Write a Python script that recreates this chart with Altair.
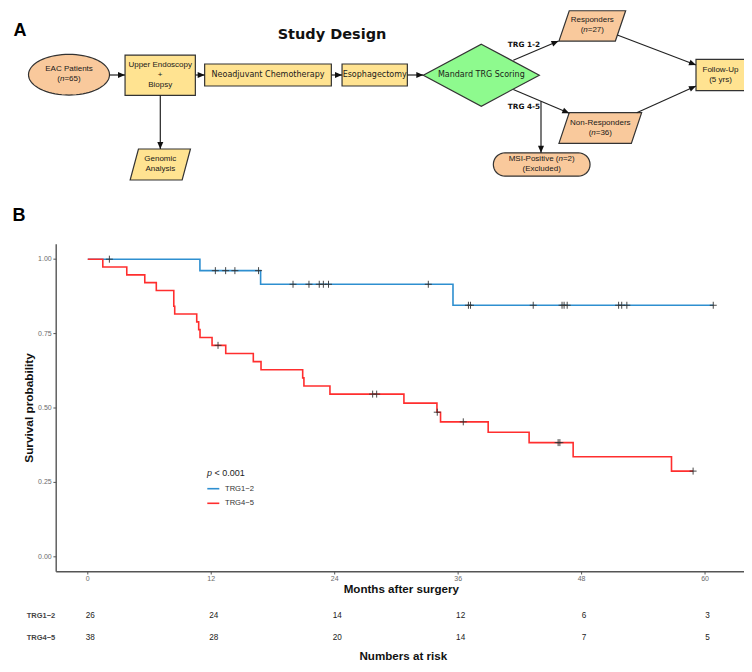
import math
import altair as alt
import pandas as pd

# ---------------- data: Kaplan-Meier ----------------
groups = ["TRG1\u22122", "TRG4\u22125"]
line_colors = ["#2E8FD0", "#FF2E2E"]

blue_time = [0, 10.9, 16.8, 35.5, 60.8]
blue_surv = [1.0, 0.9615, 0.9157, 0.8452, 0.8452]
blue_cens_time = [2.1, 12.4, 13.4, 14.3, 16.6, 19.95, 21.5, 22.5, 22.9, 23.4, 33.1,
                  37.0, 37.2, 43.3, 46.1, 46.3, 46.6, 51.6, 51.9, 52.4, 60.8]
blue_cens_surv = [1.0, 0.9615, 0.9615, 0.9615, 0.9615, 0.9157, 0.9157, 0.9157, 0.9157, 0.9157, 0.9157,
                  0.8452, 0.8452, 0.8452, 0.8452, 0.8452, 0.8452, 0.8452, 0.8452, 0.8452, 0.8452]

red_time = [0, 1.46, 3.79, 5.54, 6.66, 8.36, 8.45, 10.59, 10.78, 10.91, 12.08, 13.41, 16.09,
            16.84, 20.89, 21.01, 23.54, 30.73, 33.94, 34.29, 38.92, 42.9, 47.18, 56.74, 58.84]
red_surv = [1.0, 0.9737, 0.9474, 0.9211, 0.8947, 0.8421, 0.8158, 0.7895, 0.7632, 0.7368, 0.7105,
            0.6832, 0.6559, 0.6286, 0.6013, 0.574, 0.5467, 0.5163, 0.4859, 0.4535, 0.4186, 0.3837,
            0.336, 0.288, 0.288]
red_cens_time = [12.66, 27.69, 28.08, 33.97, 36.5, 45.72, 45.89, 58.84]
red_cens_surv = [0.7105, 0.5467, 0.5467, 0.4859, 0.4535, 0.3837, 0.3837, 0.288]

risk_times = [0, 12, 24, 36, 48, 60]
risk_trg12 = [26, 24, 14, 12, 6, 3]
risk_trg45 = [38, 28, 20, 14, 7, 5]

y_ticks = [0.0, 0.25, 0.5, 0.75, 1.0]
y_tick_labels = ["0.00", "0.25", "0.50", "0.75", "1.00"]
x_ticks = [0, 12, 24, 36, 48, 60]
p_text = "< 0.001"

# ---------------- data: flowchart ----------------
node_names = ["EAC", "Upper", "Neo", "Esoph", "Mandard", "Resp", "NonResp", "Follow", "Genomic", "MSI"]
node_lines = [
    ["EAC Patients", "(n=65)"],
    ["Upper Endoscopy", "+", "Biopsy"],
    ["Neoadjuvant Chemotherapy"],
    ["Esophagectomy"],
    ["Mandard TRG Scoring"],
    ["Responders", "(n=27)"],
    ["Non-Responders", "(n=36)"],
    ["Follow-Up", "(5 yrs)"],
    ["Genomic", "Analysis"],
    ["MSI-Positive (n=2)", "(Excluded)"],
]
edge_labels = ["TRG 1-2", "TRG 4-5"]

# ---------------- layout (page pixel coordinates) ----------------
PEACH, YELLOW, GREEN = "#F9C99C", "#FFE391", "#8EFA8E"
node_layout = {  # shape, cx, cy, w, h, skew, fill, font
    "EAC": ("ellipse", 69, 74.7, 81, 40.7, 0, PEACH, "lib"),
    "Upper": ("rect", 160.2, 75.2, 70.3, 40.3, 0, YELLOW, "lib"),
    "Neo": ("rect", 268, 75, 126.7, 22, 0, YELLOW, "dv"),
    "Esoph": ("rect", 374.7, 75, 65.3, 22, 0, YELLOW, "dv"),
    "Mandard": ("diamond", 481.3, 75.2, 116, 62, 0, GREEN, "dv"),
    "Resp": ("para", 592.3, 25.9, 66.7, 30.3, 10.3, PEACH, "lib"),
    "NonResp": ("para", 600.3, 128, 82.7, 30.7, 10.3, PEACH, "lib"),
    "Follow": ("rect", 720.5, 75, 49, 31.4, 0, YELLOW, "lib"),
    "Genomic": ("para", 160.3, 164.5, 60.3, 31, 8.3, YELLOW, "lib"),
    "MSI": ("stadium", 541.7, 164.5, 96.7, 23.3, 0, PEACH, "lib"),
}
line_gap = 10
arrows = [  # x1, y1, x2, y2, head
    (109.5, 75, 125, 75, 1), (195.3, 75, 204.7, 75, 1), (331.3, 75, 342, 75, 1),
    (407.3, 75, 423.3, 75, 1), (160.3, 95.3, 160.3, 149, 1), (513.3, 60.3, 558.5, 41, 1),
    (513.3, 89.5, 569.3, 113.3, 1), (541, 101.2, 541, 152.7, 1), (617.3, 35, 696, 65, 1),
    (636.7, 112.7, 696, 86, 1),
]
edge_label_pos = [(524, 44.5), (524, 106.5)]

W, H = 736, 656


def pxs():
    return alt.Scale(domain=[8, 744], range=[0, 736], nice=False, zero=False)


def pys():
    return alt.Scale(domain=[8, 664], range=[0, 656], nice=False, zero=False)


def kxs():
    return alt.Scale(domain=[-3.07, 64.05], range=[48.2, 738.7], nice=False, zero=False)


def kys():
    return alt.Scale(domain=[-0.05, 1.05], range=[563.7, 236.3], nice=False, zero=False)


def PX(f="x"):
    return alt.X(f"{f}:Q", scale=pxs(), axis=None)


def PY(f="y"):
    return alt.Y(f"{f}:Q", scale=pys(), axis=None)


# Arial/Liberation Sans advance widths (em units)
AW = {'(': .333, ')': .333, '=': .584, ' ': .278, '<': .584, '.': .278, '-': .333,
      'M': .833, 'S': .667, 'I': .278, 'P': .667, 'i': .222, 't': .278, 'l': .222,
      'v': .5, 's': .5, 'y': .5, 'c': .5, 'k': .5, 'r': .333, 'f': .278}


def tw(s, size):
    w = 0
    for ch in s:
        if ch in AW:
            w += AW[ch]
        elif ch.isdigit():
            w += .556
        elif ch.isupper():
            w += .667
        else:
            w += .556
    return w * size


def split_italic(text):
    if "(n=" in text:
        a, b = text.split("(n=", 1)
        return [(a + "(", False), ("n", True), ("=" + b, False)]
    return [(text, False)]


def place_line(text, cx, cy, size, out_reg, out_it):
    parts = split_italic(text)
    if len(parts) == 1:
        out_reg.append({"x": cx, "y": cy, "t": text, "a": "center"})
        return
    total = sum(tw(p, size) for p, _ in parts)
    x = cx - total / 2
    for p, it in parts:
        stripped = p.lstrip(" ")
        xo = x + tw(p[:len(p) - len(stripped)], size)
        (out_it if it else out_reg).append({"x": xo, "y": cy, "t": stripped.rstrip(" "), "a": "left"})
        x += tw(p, size)


# ---------------- flowchart shapes ----------------
def node_points(shape, w, h, k):
    if shape == "rect":
        return [(-w / 2, -h / 2), (w / 2, -h / 2), (w / 2, h / 2), (-w / 2, h / 2)]
    if shape == "diamond":
        return [(0, -h / 2), (w / 2, 0), (0, h / 2), (-w / 2, 0)]
    if shape == "para":
        return [(-w / 2 + k, -h / 2), (w / 2, -h / 2), (w / 2 - k, h / 2), (-w / 2, h / 2)]
    if shape == "ellipse":
        return [(w / 2 * math.cos(2 * math.pi * i / 72), h / 2 * math.sin(2 * math.pi * i / 72)) for i in range(72)]
    if shape == "stadium":
        r = h / 2
        c = w / 2 - r
        pts = [(c + r * math.cos(math.radians(a)), r * math.sin(math.radians(a))) for a in range(-90, 91, 10)]
        pts += [(-c + r * math.cos(math.radians(a)), r * math.sin(math.radians(a))) for a in range(90, 271, 10)]
        return pts
    return []


node_rows = []
for name in node_names:
    shape, cx, cy, w, h, k, fill, _ = node_layout[name]
    S = max(w, h) / 2
    pts = node_points(shape, w, h, k)
    path = "M" + "L".join(f"{x / S:.4f},{y / S:.4f}" for x, y in pts) + "Z"
    node_rows.append({"x": cx, "y": cy, "path": path, "sz": (2 * S) ** 2, "fill": fill})
nodes_df = pd.DataFrame(node_rows)

nodes = alt.Chart(nodes_df).mark_point(filled=True, opacity=1, stroke="#333333", strokeWidth=1.2).encode(
    x=PX(), y=PY(),
    shape=alt.Shape("path:N", scale=None),
    size=alt.Size("sz:Q", scale=None),
    fill=alt.Fill("fill:N", scale=None),
)

# arrows
arrow_df = pd.DataFrame([{"x": a[0], "y": a[1], "x2": a[2], "y2": a[3]} for a in arrows])
arrow_lines = alt.Chart(arrow_df).mark_rule(color="#222222", strokeWidth=1.2).encode(
    x=PX(), y=PY(), x2="x2:Q", y2="y2:Q")
head_rows = []
for x1, y1, x2, y2, hd in arrows:
    if hd:
        ang = math.degrees(math.atan2(x2 - x1, -(y2 - y1))) % 360
        head_rows.append({"x": x2, "y": y2, "ang": ang})
heads = alt.Chart(pd.DataFrame(head_rows)).mark_point(
    shape="M0,0L-0.43,1L0.43,1Z", size=196, filled=True, opacity=1, color="#111111", strokeWidth=0
).encode(x=PX(), y=PY(), angle=alt.Angle("ang:Q", scale=None))

# flowchart texts
lib_reg, lib_it, dv_reg = [], [], []
for name, lines in zip(node_names, node_lines):
    shape, cx, cy, w, h, k, fill, font = node_layout[name]
    n = len(lines)
    for i, ln in enumerate(lines):
        yy = cy + (i - (n - 1) / 2) * line_gap - 0.5
        if font == "dv":
            dv_reg.append({"x": cx, "y": yy, "t": ln, "a": "center"})
        else:
            place_line(ln, cx, yy, 8, lib_reg, lib_it)


def text_layer(rows, font, size, weight="normal", style="normal", color="#1a1a1a", angle=0):
    df = pd.DataFrame(rows)
    layers = []
    for a in ["left", "center", "right"]:
        sub = df[df["a"] == a]
        if len(sub) == 0:
            continue
        layers.append(alt.Chart(sub).mark_text(
            font=font, fontSize=size, fontWeight=weight, fontStyle=style, color=color,
            align=a, baseline="middle", angle=angle).encode(x=PX(), y=PY(), text="t:N"))
    return layers


LIB = "Liberation Sans"
DV = "DejaVu Sans"

flow_texts = []
flow_texts += text_layer(lib_reg, LIB, 8)
flow_texts += text_layer(lib_it, LIB, 8, style="italic")
flow_texts += text_layer(dv_reg, DV, 8)
flow_texts += text_layer([{"x": p[0], "y": p[1], "t": t, "a": "center"} for t, p in zip(edge_labels, edge_label_pos)],
                         DV, 7.3, weight="bold", color="#111111")
flow_texts += text_layer([{"x": 332, "y": 34.5, "t": "Study Design", "a": "center"}], DV, 14.5, weight="bold", color="#111111")
flow_texts += text_layer([{"x": 13.5, "y": 30.5, "t": "A", "a": "left"},
                          {"x": 12.5, "y": 215.5, "t": "B", "a": "left"}], LIB, 18, weight="bold", color="#000000")

# ---------------- KM plot ----------------
km_df = pd.concat([
    pd.DataFrame({"t": blue_time, "s": blue_surv, "g": groups[0]}),
    pd.DataFrame({"t": red_time, "s": red_surv, "g": groups[1]}),
])
km_lines = alt.Chart(km_df).mark_line(interpolate="step-after", strokeWidth=1.6).encode(
    x=alt.X("t:Q", scale=kxs(), axis=None),
    y=alt.Y("s:Q", scale=kys(), axis=None),
    color=alt.Color("g:N", scale=alt.Scale(domain=groups, range=line_colors), legend=None),
    detail="g:N",
    order="t:Q",
)
cens_df = pd.DataFrame({"t": blue_cens_time + red_cens_time, "s": blue_cens_surv + red_cens_surv})
censors = alt.Chart(cens_df).mark_point(shape="M-1,0L1,0M0,-1L0,1", size=49, filled=False,
                                        color="#333333", strokeWidth=0.9, opacity=1).encode(
    x=alt.X("t:Q", scale=kxs(), axis=None), y=alt.Y("s:Q", scale=kys(), axis=None))

AX_L, AX_R, AX_T, AX_B = 56.2, 746.7, 244.3, 571.7
axis_df = pd.DataFrame([{"x": AX_L, "y": AX_T, "x2": AX_L, "y2": AX_B},
                        {"x": AX_L, "y": AX_B, "x2": AX_R, "y2": AX_B}])
axis_lines = alt.Chart(axis_df).mark_rule(color="#555555", strokeWidth=1.4).encode(
    x=PX(), y=PY(), x2="x2:Q", y2="y2:Q")

ytick_df = pd.DataFrame({"v": y_ticks, "lab": y_tick_labels, "x": AX_L - 2.8, "x2": AX_L, "xl": AX_L - 4.5})
ytick_marks = alt.Chart(ytick_df).mark_rule(color="#555555", strokeWidth=1).encode(
    x=PX(), x2="x2:Q", y=alt.Y("v:Q", scale=kys(), axis=None))
ytick_labels = alt.Chart(ytick_df).mark_text(font=LIB, fontSize=7, color="#6b6b6b", align="right",
                                             baseline="middle").encode(
    x=PX("xl"), y=alt.Y("v:Q", scale=kys(), axis=None), text="lab:N")

xtick_df = pd.DataFrame({"v": x_ticks, "lab": [str(v) for v in x_ticks], "y": AX_B, "y2": AX_B + 2.8, "yl": 578.5})
xtick_marks = alt.Chart(xtick_df).mark_rule(color="#555555", strokeWidth=1).encode(
    x=alt.X("v:Q", scale=kxs(), axis=None), y=PY(), y2="y2:Q")
xtick_labels = alt.Chart(xtick_df).mark_text(font=LIB, fontSize=7, color="#6b6b6b", align="center",
                                             baseline="middle").encode(
    x=alt.X("v:Q", scale=kxs(), axis=None), y=PY("yl"), text="lab:N")

titles = []
titles += text_layer([{"x": 28.5, "y": 408, "t": "Survival probability", "a": "center"}], LIB, 11.8,
                     weight="bold", color="#111111", angle=270)
titles += text_layer([{"x": 401.3, "y": 590, "t": "Months after surgery", "a": "center"},
                      {"x": 403.3, "y": 657.2, "t": "Numbers at risk", "a": "center"}], LIB, 11.6,
                     weight="bold", color="#111111")

# legend
leg_y = [488.7, 503.3]
leg_df = pd.DataFrame({"g": groups, "x": 207.3, "x2": 219.3, "y": leg_y, "xl": 225})
leg_lines = alt.Chart(leg_df).mark_rule(strokeWidth=1.6).encode(
    x=PX(), x2="x2:Q", y=PY(),
    color=alt.Color("g:N", scale=alt.Scale(domain=groups, range=line_colors), legend=None))
leg_text = alt.Chart(leg_df).mark_text(font=LIB, fontSize=7.6, color="#333333", align="left",
                                       baseline="middle").encode(x=PX("xl"), y=PY(), text="g:N")
p_it, p_reg = [], []
px0 = 207
p_it.append({"x": px0, "y": 472.7, "t": "p", "a": "left"})
p_reg.append({"x": px0 + tw("p ", 9), "y": 472.7, "t": p_text, "a": "left"})
p_layers = text_layer(p_it, LIB, 9, style="italic", color="#222222") + text_layer(p_reg, LIB, 9, color="#222222")

# ---------------- risk table ----------------
risk_df = pd.concat([
    pd.DataFrame({"t": risk_times, "n": [str(v) for v in risk_trg12], "y": 616.0}),
    pd.DataFrame({"t": risk_times, "n": [str(v) for v in risk_trg45], "y": 638.0}),
])
risk_nums = alt.Chart(risk_df).mark_text(font=LIB, fontSize=8.2, color="#222222", align="center",
                                         baseline="middle", dx=2.5).encode(
    x=alt.X("t:Q", scale=kxs(), axis=None), y=PY(), text="n:N")
risk_labels = text_layer([{"x": 26.7, "y": 616.0, "t": groups[0], "a": "left"},
                          {"x": 26.7, "y": 638.0, "t": groups[1], "a": "left"}], LIB, 7.5,
                         weight="bold", color="#444444")

layers = [nodes, arrow_lines, heads] + flow_texts + [
    axis_lines, ytick_marks, ytick_labels, xtick_marks, xtick_labels,
    km_lines, censors, leg_lines, leg_text] + p_layers + titles + [risk_nums] + risk_labels

chart = alt.layer(*layers).resolve_scale(
    x="independent", y="independent", color="independent"
).properties(
    width=W, height=H, padding=0, autosize=alt.AutoSizeParams(type="none"),
    background="white",
).configure_view(stroke=None)

chart.save("out.html", embed_options={"renderer": "svg", "actions": False})
